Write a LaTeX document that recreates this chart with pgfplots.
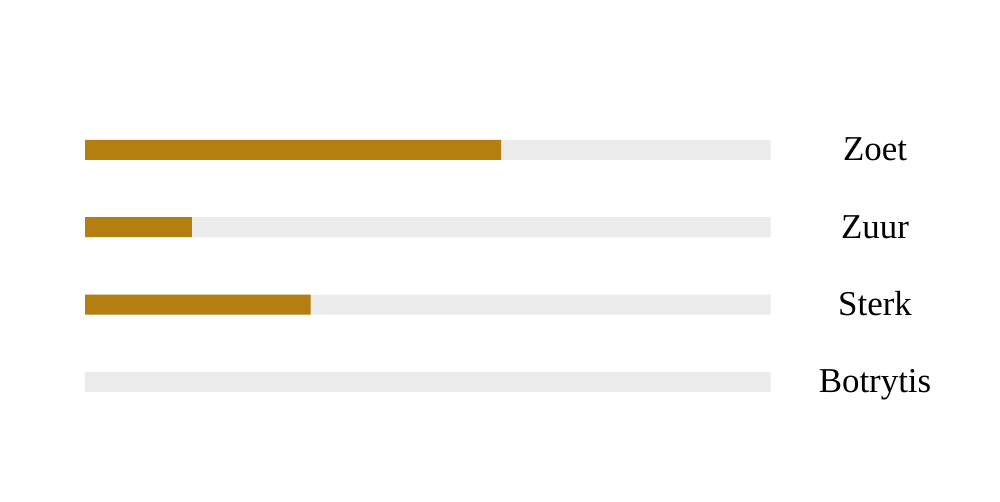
\documentclass[border=0pt]{standalone}
\usepackage{pgfplots}
\pgfplotsset{compat=1.18}
\usepackage{fontspec}
\setmainfont{Liberation Serif}
\definecolor{gold}{HTML}{B57E10}
\definecolor{track}{HTML}{EBEBEB}
\begin{document}
\begin{tikzpicture}
\path[fill=white, use as bounding box] (0,0) rectangle (1000bp,502bp);
\begin{axis}[
  at={(85bp,81.3bp)}, anchor=south west,
  scale only axis, width=685.7bp, height=309.6bp,
  xmin=0, xmax=100, ymin=-0.5, ymax=3.5,
  xbar, bar width=20bp, bar shift=0pt,
  axis line style={draw=none},
  xtick=\empty,
  ytick={0,1,2,3}, yticklabels={Botrytis,Sterk,Zuur,Zoet},
  yticklabel pos=right,
  major tick length=0pt,
  yticklabel style={anchor=base, xshift=104.3bp, yshift=-11bp,
    font=\fontsize{35}{42}\selectfont},
  clip=false
]
% full-length tracks
\addplot[fill=track, draw=none] coordinates {(100,0) (100,1) (100,2) (100,3)};
% measured levels
\addplot[fill=gold, draw=none] coordinates {(32.9,1) (15.6,2) (60.7,3)};
\end{axis}
\end{tikzpicture}
\end{document}
